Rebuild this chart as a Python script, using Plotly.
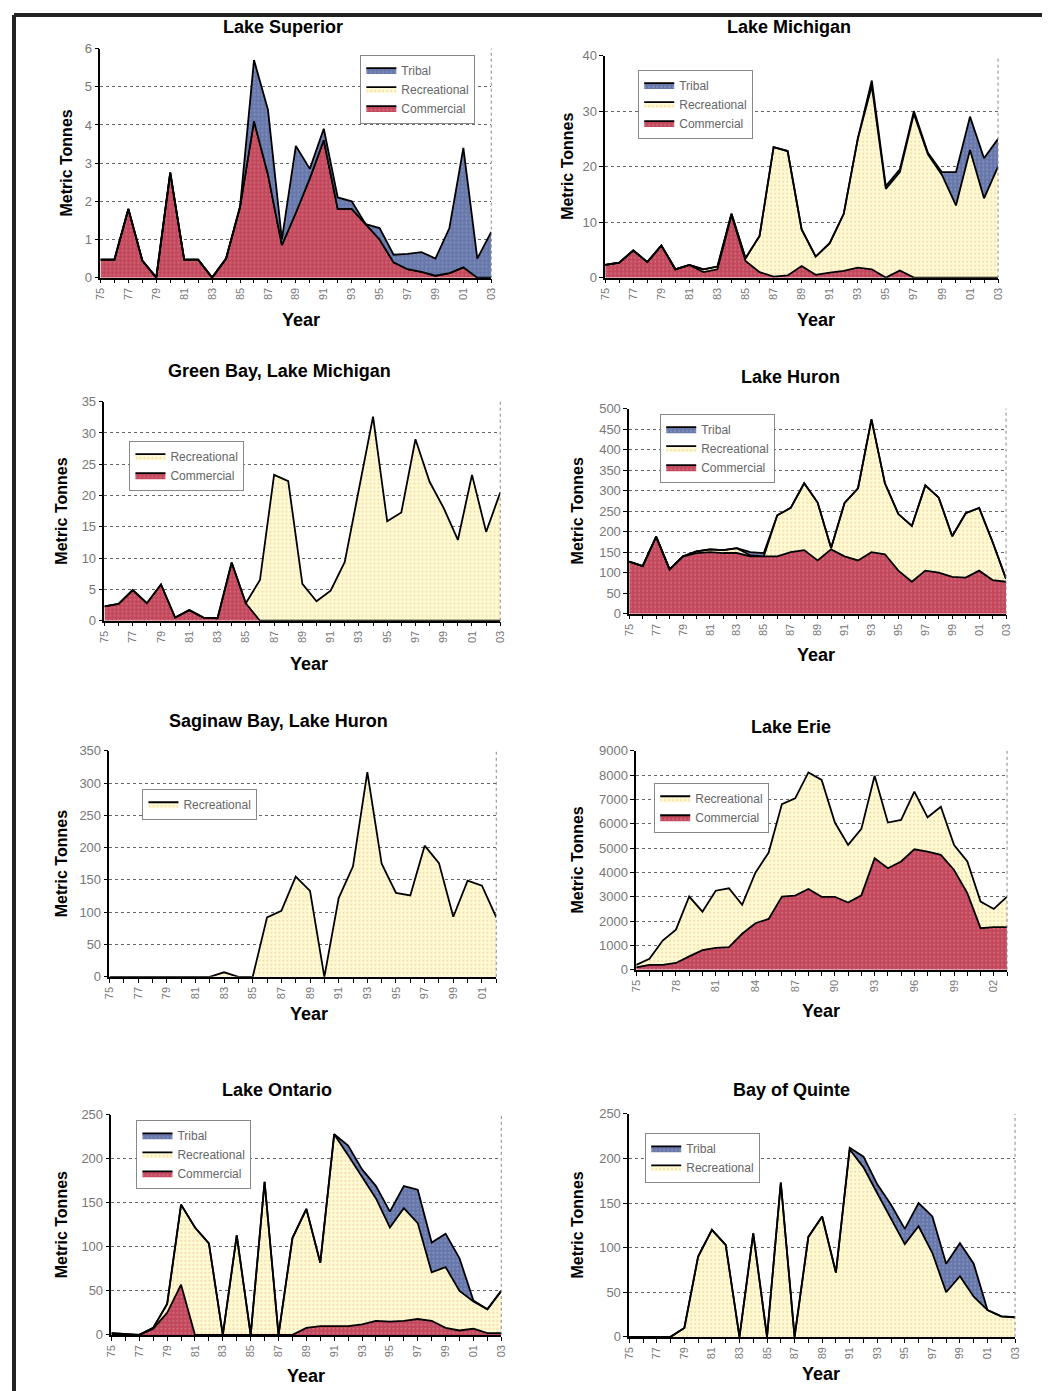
import plotly.graph_objects as go

# ---------------- data ----------------
years = ['75', '76', '77', '78', '79', '80', '81', '82', '83', '84', '85', '86', '87', '88', '89',
         '90', '91', '92', '93', '94', '95', '96', '97', '98', '99', '00', '01', '02', '03']

sup_commercial = [0.47, 0.47, 1.8, 0.45, 0, 2.75, 0.47, 0.47, 0, 0.5, 1.85, 4.1, 2.7, 0.85, 1.7,
                  2.6, 3.6, 1.8, 1.8, 1.4, 1.0, 0.4, 0.22, 0.15, 0.05, 0.12, 0.27, 0, 0]
sup_recreational = [0] * 29
sup_tribal = [0, 0, 0, 0, 0, 0, 0, 0, 0, 0, 0, 1.6, 1.7, 0.15, 1.75,
              0.25, 0.3, 0.3, 0.2, 0, 0.3, 0.2, 0.4, 0.52, 0.45, 1.18, 3.13, 0.5, 1.2]

mi_commercial = [2.3, 2.7, 4.9, 2.8, 5.8, 1.5, 2.3, 1.0, 1.5, 11.3, 3.0, 1.0, 0.2, 0.4, 2.1,
                 0.5, 0.9, 1.2, 1.8, 1.5, 0, 1.3, 0, 0, 0, 0, 0, 0, 0]
mi_recreational = [0, 0, 0, 0, 0, 0, 0, 0.5, 0.5, 0.2, 0.5, 6.5, 23.3, 22.4, 6.6,
                   3.3, 5.3, 10.3, 23.2, 33.0, 16.0, 17.7, 29.5, 22.2, 18.5, 13.0, 23.0, 14.3, 20.0]
mi_tribal = [0, 0, 0, 0, 0, 0, 0, 0, 0, 0, 0, 0, 0, 0, 0,
             0, 0, 0, 0, 1.0, 0.5, 0.5, 0.5, 0.3, 0.5, 6.0, 6.0, 7.2, 5.0]

gb_commercial = [2.3, 2.7, 4.9, 2.8, 5.8, 0.5, 1.7, 0.5, 0.4, 9.3, 2.8, 0, 0, 0, 0,
                 0, 0, 0, 0, 0, 0, 0, 0, 0, 0, 0, 0, 0, 0]
gb_recreational = [0, 0, 0, 0, 0, 0, 0, 0, 0, 0, 0, 6.5, 23.3, 22.3, 5.9,
                   3.1, 4.8, 9.4, 21.0, 32.6, 15.9, 17.3, 29.0, 22.2, 18.0, 12.9, 23.3, 14.2, 20.5]

hu_commercial = [127, 116, 188, 108, 140, 148, 150, 148, 148, 140, 140, 140, 150, 155, 130,
                 157, 140, 130, 150, 145, 105, 78, 105, 100, 90, 88, 105, 82, 78]
hu_recreational = [0, 0, 0, 0, 0, 4, 7, 7, 12, 2, 0, 100, 108, 163, 141,
                   3, 130, 176, 324, 173, 138, 136, 208, 183, 99, 157, 153, 93, 7]
hu_tribal = [0, 0, 0, 0, 0, 0, 0, 0, 0, 8, 8, 0, 0, 0, 0,
             0, 0, 0, 0, 0, 0, 0, 0, 0, 0, 0, 0, 0, 0]

sag_recreational = [0, 0, 0, 0, 0, 0, 0, 0, 7, 0, 0, 92, 102, 155, 133,
                    0, 122, 171, 317, 175, 130, 126, 203, 176, 93, 149, 141, 92]

er_commercial = [100, 200, 200, 280, 550, 810, 900, 930, 1480, 1915, 2090, 3010, 3050, 3320, 3000,
                 3000, 2760, 3060, 4580, 4170, 4450, 4950, 4860, 4720, 4100, 3150, 1710, 1750, 1750]
er_recreational = [100, 250, 1000, 1370, 2460, 1580, 2350, 2420, 1190, 2075, 2725, 3800, 3995, 4790, 4800,
                   3050, 2370, 2730, 3395, 1880, 1705, 2370, 1405, 1980, 1030, 1300, 1090, 750, 1260]

on_commercial = [0, 0, 0, 7, 25, 57, 0, 0, 0, 0, 0, 0, 0, 0, 8,
                 10, 10, 10, 12, 16, 15, 16, 18, 16, 8, 5, 7, 2, 2]
on_recreational = [2, 1, 0, 1, 10, 91, 122, 104, 0, 113, 0, 174, 0, 110, 135,
                   72, 218, 194, 168, 139, 107, 128, 109, 55, 69, 45, 31, 27, 48]
on_tribal = [0, 0, 0, 0, 0, 0, 0, 0, 0, 0, 0, 0, 0, 0, 0,
             0, 0, 11, 8, 14, 18, 25, 38, 34, 38, 37, 1, 0, 0]

qu_recreational = [0, 0, 0, 0, 10, 90, 120, 103, 0, 116, 0, 173, 0, 112, 135,
                   72, 210, 190, 161, 132, 104, 124, 94, 50, 68, 45, 30, 23, 22]
qu_tribal = [0, 0, 0, 0, 0, 0, 0, 0, 0, 0, 0, 0, 0, 0, 0,
             0, 2, 12, 10, 16, 17, 26, 41, 32, 37, 37, 0, 0, 0]

# ---------------- styles / layout ----------------
W, H = 1050, 1391
PAGE_MARGIN = 8                 # html body margin
SCALE, OFF_X, OFF_Y = 0.989, 4.6, 7.5   # observed page -> photo mapping

STYLE = {
    'Commercial': dict(bg='#C2475B', fg='#E08898'),
    'Recreational': dict(bg='#FFFCD4', fg='#F0BC90'),
    'Tribal': dict(bg='#6676AA', fg='#9AA8CC'),
}
FONT = 'Liberation Sans, Arial, sans-serif'

panels = [
    dict(title='Lake Superior',
         series=[('Commercial', sup_commercial), ('Recreational', sup_recreational), ('Tribal', sup_tribal)],
         box=(99, 49, 490, 278), yrange=(0, 6), dtick=1, lstep=2,
         title_xy=(282, 27), ytitle_x=65, xtitle_xy=(300, 320), leg=(359, 55)),
    dict(title='Lake Michigan',
         series=[('Commercial', mi_commercial), ('Recreational', mi_recreational), ('Tribal', mi_tribal)],
         box=(604, 56, 997, 278), yrange=(0, 40), dtick=10, lstep=2,
         title_xy=(788, 27), ytitle_x=566, xtitle_xy=(815, 320), leg=(637, 70)),
    dict(title='Green Bay, Lake Michigan',
         series=[('Commercial', gb_commercial), ('Recreational', gb_recreational)],
         box=(103, 402, 499, 621), yrange=(0, 35), dtick=5, lstep=2,
         title_xy=(278, 371), ytitle_x=60, xtitle_xy=(308, 664), leg=(128, 441)),
    dict(title='Lake Huron',
         series=[('Commercial', hu_commercial), ('Recreational', hu_recreational), ('Tribal', hu_tribal)],
         box=(628, 409, 1005, 614), yrange=(0, 500), dtick=50, lstep=2,
         title_xy=(789, 377), ytitle_x=576, xtitle_xy=(815, 655), leg=(659, 414)),
    dict(title='Saginaw Bay, Lake Huron',
         series=[('Recreational', sag_recreational)],
         box=(108, 751, 495, 977), yrange=(0, 350), dtick=50, lstep=2,
         title_xy=(277, 721), ytitle_x=60, xtitle_xy=(308, 1014), leg=(141, 789)),
    dict(title='Lake Erie',
         series=[('Commercial', er_commercial), ('Recreational', er_recreational)],
         box=(635, 751, 1006, 970), yrange=(0, 9000), dtick=1000, lstep=3,
         title_xy=(790, 727), ytitle_x=576, xtitle_xy=(820, 1011), leg=(653, 783)),
    dict(title='Lake Ontario',
         series=[('Commercial', on_commercial), ('Recreational', on_recreational), ('Tribal', on_tribal)],
         box=(110, 1115, 500, 1335), yrange=(0, 250), dtick=50, lstep=2,
         title_xy=(276, 1090), ytitle_x=60, xtitle_xy=(305, 1376), leg=(135, 1120)),
    dict(title='Bay of Quinte',
         series=[('Recreational', qu_recreational), ('Tribal', qu_tribal)],
         box=(628, 1114, 1014, 1337), yrange=(0, 250), dtick=50, lstep=2,
         title_xy=(790, 1090), ytitle_x=576, xtitle_xy=(820, 1374), leg=(644, 1133)),
]

fig = go.Figure()
layout = dict(width=W, height=H, margin=dict(l=0, r=0, t=0, b=0),
              paper_bgcolor='white', plot_bgcolor='white', showlegend=True,
              annotations=[], shapes=[])

def px(x):
    return ((x - OFF_X) / SCALE - PAGE_MARGIN) / W

def py(y):
    return 1 - ((y - OFF_Y) / SCALE - PAGE_MARGIN) / H

for i, p in enumerate(panels, start=1):
    sfx = '' if i == 1 else str(i)
    xa, ya = 'x' + sfx, 'y' + sfx
    leg = 'legend' + sfx
    n = len(p['series'][0][1])
    x0, y0, x1, y1 = p['box']
    for name, vals in p['series']:
        st = STYLE[name]
        fig.add_trace(go.Scatter(
            x=list(range(n)), y=vals, name=name, mode='lines',
            stackgroup='s%d' % i, xaxis=xa, yaxis=ya, legend=leg,
            line=dict(color='black', width=1.8),
            fillcolor=st['bg'],
            fillpattern=dict(shape='.', bgcolor=st['bg'], fgcolor=st['fg'], size=4, solidity=0.25),
            hoverinfo='name+y'))
    tickvals = list(range(n))
    ticktext = [years[k] if k % p['lstep'] == 0 else '' for k in range(n)]
    layout['xaxis' + sfx] = dict(
        domain=[px(x0), px(x1)], anchor=ya, range=[0, n - 1], tickmode='array',
        tickvals=tickvals, ticktext=ticktext, tickangle=-90, ticks='outside', ticklen=4,
        tickcolor='black', showline=True, linecolor='black', linewidth=1.5,
        showgrid=False, zeroline=False,
        tickfont=dict(family=FONT, size=11, color='#777'))
    layout['yaxis' + sfx] = dict(
        domain=[py(y1), py(y0)], anchor=xa, range=list(p['yrange']), dtick=p['dtick'],
        ticks='outside', ticklen=4, tickcolor='black', showline=True, linecolor='black',
        linewidth=1.5, showgrid=True, gridcolor='#666', griddash='dot', gridwidth=1,
        zeroline=False, tickfont=dict(family=FONT, size=13, color='#777'))
    # dotted right border of plot area
    layout['shapes'].append(dict(type='line', xref=xa + ' domain', yref=ya + ' domain',
                                 x0=1, x1=1, y0=0, y1=1,
                                 line=dict(color='#888', width=1, dash='dot')))
    # legend
    lx, ly = p['leg']
    layout[leg] = dict(x=px(lx), y=py(ly), xanchor='left', yanchor='top',
                       bgcolor='white', bordercolor='#888', borderwidth=1,
                       traceorder='reversed', itemwidth=30, tracegroupgap=0,
                       font=dict(family=FONT, size=12, color='#666'))
    # title
    tx, ty = p['title_xy']
    layout['annotations'].append(dict(text='<b>%s</b>' % p['title'], x=px(tx), y=py(ty),
                                      xref='paper', yref='paper', showarrow=False,
                                      xanchor='center', yanchor='middle',
                                      font=dict(family=FONT, size=18, color='black')))
    # y-axis title
    layout['annotations'].append(dict(text='<b>Metric Tonnes</b>', x=px(p['ytitle_x']),
                                      y=py((y0 + y1) / 2), xref='paper', yref='paper',
                                      showarrow=False, textangle=-90,
                                      xanchor='center', yanchor='middle',
                                      font=dict(family=FONT, size=16, color='black')))
    # x-axis title
    xx, xy = p['xtitle_xy']
    layout['annotations'].append(dict(text='<b>Year</b>', x=px(xx), y=py(xy),
                                      xref='paper', yref='paper', showarrow=False,
                                      xanchor='center', yanchor='middle',
                                      font=dict(family=FONT, size=18, color='black')))

# outer frame (left and top edges)
layout['shapes'].append(dict(type='line', xref='paper', yref='paper', x0=0, x1=0,
                             y0=0, y1=1, line=dict(color='#222', width=4)))
layout['shapes'].append(dict(type='line', xref='paper', yref='paper', x0=0, x1=1,
                             y0=1, y1=1, line=dict(color='#222', width=4)))

fig.update_layout(**layout)
fig.write_html('out.html')
